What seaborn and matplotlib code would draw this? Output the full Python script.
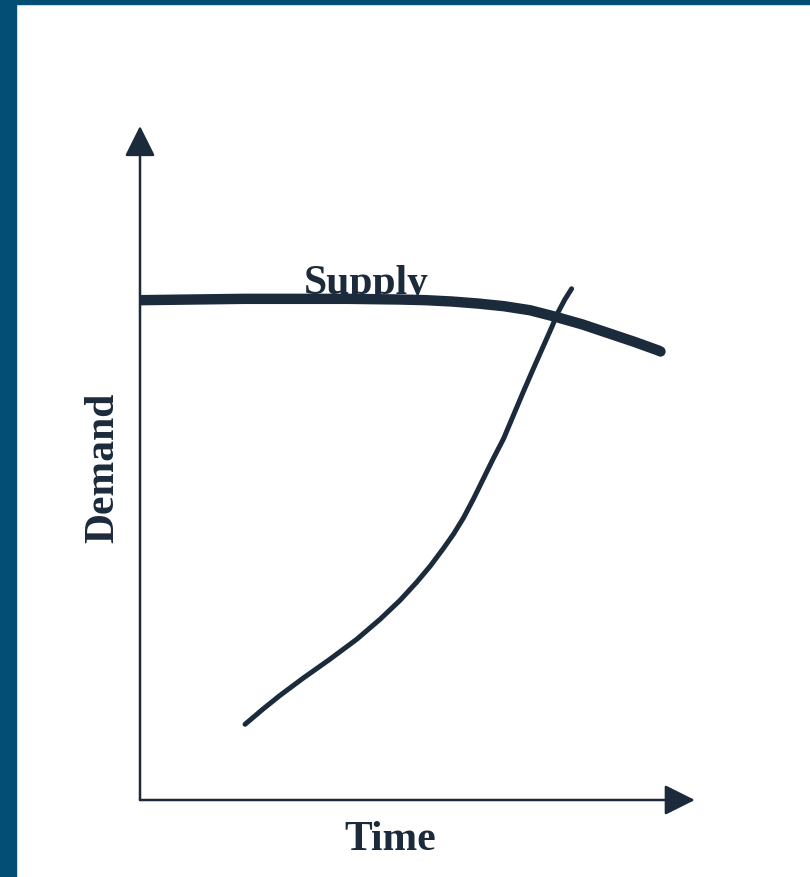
import numpy as np
import pandas as pd
import matplotlib
matplotlib.use("Agg")
import matplotlib.pyplot as plt
from matplotlib.patches import Rectangle
import seaborn as sns

# ---- data (arbitrary units) ----
supply_time = [0, 1, 2, 3, 4, 5, 5.5, 6, 6.5, 7, 7.5, 8, 8.5, 9, 9.5, 10]
supply_level = [7.46, 7.47, 7.48, 7.48, 7.48, 7.47, 7.46, 7.44, 7.41, 7.37,
                7.31, 7.21, 7.10, 6.97, 6.84, 6.70]

demand_time = [2.02, 2.37, 2.69, 3.14, 3.65, 4.17, 4.62, 5.00, 5.32, 5.58,
               5.83, 6.03, 6.22, 6.41, 6.60, 6.79, 6.99, 7.18, 7.37, 7.56,
               7.76, 7.92, 8.04, 8.17, 8.30]
demand_level = [1.13, 1.36, 1.56, 1.82, 2.10, 2.40, 2.70, 2.98, 3.25, 3.49,
                3.75, 3.97, 4.21, 4.49, 4.79, 5.09, 5.39, 5.74, 6.09, 6.43,
                6.78, 7.06, 7.28, 7.47, 7.63]

x_label = "Time"
y_label = "Demand"
curve_label = "Supply"

# ---- style ----
INK = "#1b2b3b"
FRAME = "#034e74"
FONT = ["Liberation Serif", "DejaVu Serif"]

sns.set_style("white")
plt.rcParams["font.family"] = FONT

fig = plt.figure(figsize=(8.10, 8.78), dpi=100)
W, H = 810, 878
# axes: origin at (140, 801) px, 10 units -> 520 px wide, 670 px tall
ax = fig.add_axes([140 / W, (H - 801) / H, 520 / W, 670 / H])
ax.set_xlim(0, 10)
ax.set_ylim(0, 10)
ax.axis("off")

supply_df = pd.DataFrame({"t": supply_time, "v": supply_level})
demand_df = pd.DataFrame({"t": demand_time, "v": demand_level})

sns.lineplot(data=supply_df, x="t", y="v", sort=False, estimator=None,
             color=INK, linewidth=7.5, ax=ax, zorder=3)
sns.lineplot(data=demand_df, x="t", y="v", sort=False, estimator=None,
             color=INK, linewidth=3.6, ax=ax, zorder=3)

supply_line, demand_line = ax.lines[0], ax.lines[1]
# flat start at the axis, rounded end on the right
supply_line.set_solid_capstyle("butt")
supply_line.set_solid_joinstyle("round")
supply_line.set_marker("o")
supply_line.set_markevery([len(supply_time) - 1])
supply_line.set_markersize(7.4)
supply_line.set_markeredgewidth(0)
supply_line.set_markerfacecolor(INK)
supply_line.set_clip_on(False)
demand_line.set_solid_capstyle("round")
demand_line.set_solid_joinstyle("round")
demand_line.set_clip_on(False)

# axis arrows
arrow_kw = dict(arrowstyle="-|>", mutation_scale=47, lw=1.8, color=INK,
                shrinkA=0, shrinkB=0)
ax.annotate("", xy=(10.67, 0), xytext=(0, 0), arrowprops=arrow_kw,
            annotation_clip=False)
ax.annotate("", xy=(0, 10.06), xytext=(0, 0), arrowprops=arrow_kw,
            annotation_clip=False)

# labels
ax.text(4.35, 7.57, curve_label, ha="center", va="baseline", fontsize=30,
        fontweight="bold", color=INK, zorder=2)
fig.text(390 / W, 1 - 840 / H, x_label, ha="center", va="center",
         fontsize=30, fontweight="bold", color=INK)
fig.text(103 / W, 1 - 468 / H, y_label, ha="center", va="center",
         rotation=90, fontsize=30, fontweight="bold", color=INK)

# dark frame strips (left and top)
fig.patches.append(Rectangle((0, 0), 16 / W, 1, transform=fig.transFigure,
                             color=FRAME, zorder=0))
fig.patches.append(Rectangle((0, 1 - 5 / H), 1, 5 / H, transform=fig.transFigure,
                             color=FRAME, zorder=0))

fig.savefig("out.png", dpi=100, facecolor="white")
